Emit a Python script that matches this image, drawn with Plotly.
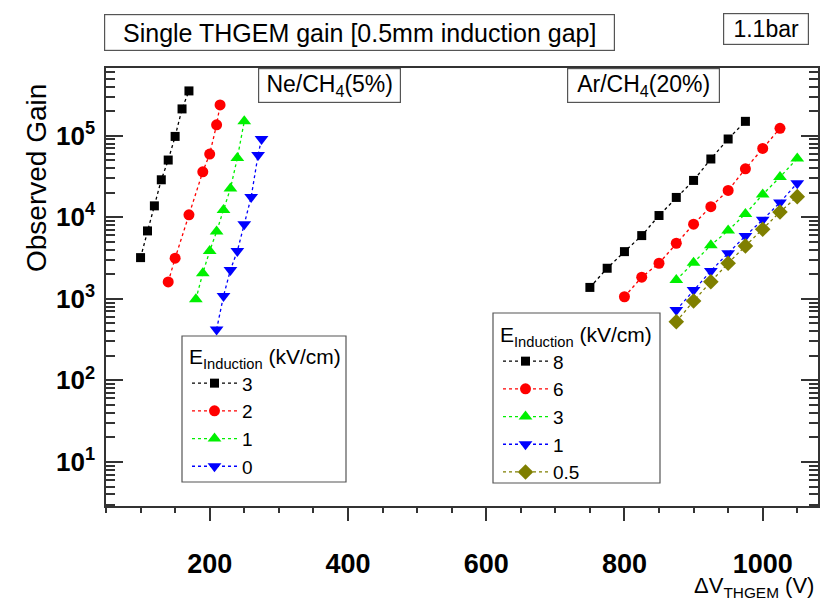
import plotly.graph_objects as go

# ---------------- data ----------------
ne_v_e3 = [100, 110, 120, 130, 140, 150, 160, 170]
ne_g_e3 = [3200, 6800, 13800, 28800, 50300, 98000, 213000, 354000]
ne_v_e2 = [140, 150, 170, 190, 200, 210, 215]
ne_g_e2 = [1610, 3150, 10700, 36100, 59600, 136000, 238000]
ne_v_e1 = [180, 190, 200, 210, 220, 230, 240, 250]
ne_g_e1 = [985, 2060, 3860, 6670, 12300, 22500, 53200, 150000]
ne_v_e0 = [210, 220, 230, 240, 250, 260, 270, 275]
ne_g_e0 = [422, 1080, 2260, 3860, 8220, 17700, 57900, 91100]

ar_v_e8 = [750, 775, 800, 825, 850, 875, 900, 925, 950, 975]
ar_g_e8 = [1380, 2370, 3790, 5960, 10500, 17500, 28300, 51800, 91100, 150000]
ar_v_e6 = [800, 825, 850, 875, 900, 925, 950, 975, 1000, 1025]
ar_g_e6 = [1060, 1840, 2730, 4800, 8220, 13500, 21300, 39300, 69800, 123000]
ar_v_e3 = [875, 900, 925, 950, 975, 1000, 1025, 1050]
ar_g_e3 = [1700, 2770, 4540, 6870, 11000, 19000, 31100, 52600]
ar_v_e1 = [875, 900, 925, 950, 975, 1000, 1025, 1050]
ar_g_e1 = [728, 1280, 2200, 3630, 5910, 9290, 15200, 26200]
ar_v_e05 = [875, 900, 925, 950, 975, 1000, 1025, 1050]
ar_g_e05 = [523, 940, 1620, 2730, 4450, 7140, 11600, 17900]

ne_labels = ["3", "2", "1", "0"]
ar_labels = ["8", "6", "3", "1", "0.5"]

y_tick_vals = [10, 100, 1000, 10000, 100000]
y_tick_text = ["10<sup>1</sup>", "10<sup>2</sup>", "10<sup>3</sup>",
               "10<sup>4</sup>", "10<sup>5</sup>"]

# ---------------- style ----------------
W, H = 820, 605
L, R, T, B = 106, 818, 68, 506
FONT = "Liberation Sans, Arial, sans-serif"
AX = "#333333"


def px(xp):
    return (xp - L) / (R - L)


def py(yp):
    return (B - yp) / (B - T)


fig = go.Figure()

ne_series = [(ne_v_e3, ne_g_e3, "black", "square", 9),
             (ne_v_e2, ne_g_e2, "#ff0000", "circle", 11),
             (ne_v_e1, ne_g_e1, "#00f000", "triangle-up", 12),
             (ne_v_e0, ne_g_e0, "#0000ff", "triangle-down", 12)]
ar_series = [(ar_v_e8, ar_g_e8, "black", "square", 9),
             (ar_v_e6, ar_g_e6, "#ff0000", "circle", 11),
             (ar_v_e3, ar_g_e3, "#00f000", "triangle-up", 12),
             (ar_v_e1, ar_g_e1, "#0000ff", "triangle-down", 12),
             (ar_v_e05, ar_g_e05, "#7f7f00", "diamond", 12)]

for (xv, yv, col, sym, sz), lab in zip(ne_series, ne_labels):
    fig.add_trace(go.Scatter(x=xv, y=yv, mode="lines+markers", name=lab,
                             line=dict(color=col, width=1.3, dash="dot"),
                             marker=dict(color=col, symbol=sym, size=sz),
                             legend="legend"))
for (xv, yv, col, sym, sz), lab in zip(ar_series, ar_labels):
    fig.add_trace(go.Scatter(x=xv, y=yv, mode="lines+markers", name=lab,
                             line=dict(color=col, width=1.3, dash="dot"),
                             marker=dict(color=col, symbol=sym, size=sz),
                             legend="legend2"))

fig.update_layout(
    width=W, height=H,
    margin=dict(l=L, r=W - R, t=T, b=H - B, autoexpand=False),
    paper_bgcolor="white", plot_bgcolor="white",
    font=dict(family=FONT, color="black"),
    xaxis=dict(range=[50, 1080], tickmode="linear", tick0=0, dtick=200,
               ticks="outside", ticklen=13, tickwidth=1.5, tickcolor=AX,
               showline=True, linecolor=AX, linewidth=1.5, mirror=True,
               showgrid=False, zeroline=False,
               tickfont=dict(family=FONT, size=27, weight="bold", color="black"),
               ticklabelstandoff=20,
               minor=dict(tick0=0, dtick=50, ticks="outside", ticklen=5,
                          tickwidth=1.5, tickcolor=AX, showgrid=False)),
    xaxis2=dict(range=[50, 1080], overlaying="x", side="top", tickmode="linear",
                tick0=0, dtick=200, ticks="inside", ticklen=15, tickwidth=1.5,
                tickcolor=AX, showticklabels=False, showline=False,
                showgrid=False, zeroline=False,
                minor=dict(tick0=0, dtick=50, ticks="inside", ticklen=7,
                           tickwidth=1.5, tickcolor=AX, showgrid=False)),
    yaxis=dict(type="log", range=[0.46, 5.83],
               tickmode="array", tickvals=y_tick_vals, ticktext=y_tick_text,
               ticks="inside", ticklen=17, tickwidth=1.5, tickcolor=AX,
               showline=True, linecolor=AX, linewidth=1.5, mirror="ticks",
               showgrid=False, zeroline=False,
               tickfont=dict(family=FONT, size=26, weight="bold", color="black"),
               ticklabelstandoff=4,
               minor=dict(dtick="D1", ticks="inside", ticklen=9, tickwidth=1.5,
                          tickcolor=AX, showgrid=False)),
    showlegend=True,
    legend=dict(x=px(187), y=py(337), xanchor="left", yanchor="top",
                bgcolor="rgba(0,0,0,0)", borderwidth=0, itemwidth=45,
                font=dict(family=FONT, size=19),
                title=dict(text="E<sub>Induction</sub> (kV/cm)",
                           font=dict(family=FONT, size=21)),
                tracegroupgap=0),
    legend2=dict(x=px(498), y=py(315), xanchor="left", yanchor="top",
                 bgcolor="rgba(0,0,0,0)", borderwidth=0, itemwidth=45,
                 font=dict(family=FONT, size=19),
                 title=dict(text="E<sub>Induction</sub> (kV/cm)",
                            font=dict(family=FONT, size=21)),
                 tracegroupgap=0),
)

# legend frames
for (x0, y0, x1, y1) in [(182, 336, 346, 482), (493, 313, 660, 483)]:
    fig.add_shape(type="rect", xref="paper", yref="paper",
                  x0=px(x0), x1=px(x1), y0=py(y1), y1=py(y0),
                  line=dict(color="#555555", width=1.2), fillcolor="white",
                  layer="above")


def boxed(text, x0, y0, x1, y1, size):
    fig.add_annotation(text=text, xref="paper", yref="paper",
                       x=px((x0 + x1) / 2), y=py((y0 + y1) / 2),
                       xanchor="center", yanchor="middle", showarrow=False,
                       width=x1 - x0 - 2, height=y1 - y0 - 2, borderpad=0,
                       bordercolor="#555555", borderwidth=1.2, bgcolor="white",
                       font=dict(family=FONT, size=size, color="black"))


boxed("Single THGEM gain [0.5mm induction gap]", 104, 14, 615, 51, 25)
boxed("1.1bar", 723, 13, 809, 45, 23)
boxed("Ne/CH<sub>4</sub>(5%)", 258, 68, 401, 103, 23)
boxed("Ar/CH<sub>4</sub>(20%)", 567, 68, 720, 103, 23)

fig.add_annotation(text="Observed Gain", xref="paper", yref="paper",
                   x=px(36), y=py(178), textangle=-90, showarrow=False,
                   xanchor="center", yanchor="middle",
                   font=dict(family=FONT, size=28, color="black"))
fig.add_annotation(text="ΔV<sub>THGEM</sub> (V)", xref="paper", yref="paper",
                   x=px(816), y=py(587), xanchor="right", yanchor="middle",
                   showarrow=False,
                   font=dict(family=FONT, size=22, color="black"))

fig.write_html("out.html", config={"displayModeBar": False},
               post_script="document.body.style.margin='0px';"
                           "document.body.style.overflow='hidden';")
